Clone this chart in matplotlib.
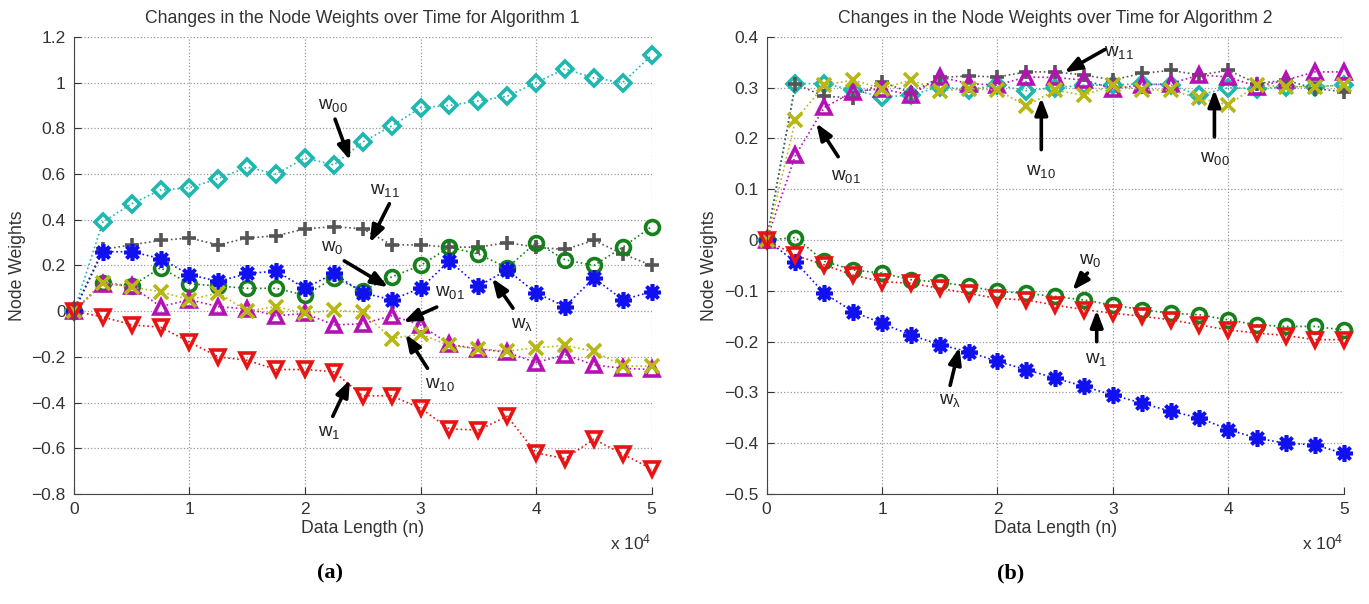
import matplotlib
matplotlib.use('Agg')
import matplotlib.pyplot as plt
from matplotlib.ticker import FuncFormatter, MultipleLocator

plt.rcParams['font.family'] = ['Liberation Sans', 'DejaVu Sans']
plt.rcParams['mathtext.fontset'] = 'custom'
plt.rcParams['mathtext.rm'] = 'Liberation Sans'
plt.rcParams['mathtext.it'] = 'Liberation Sans'
plt.rcParams['mathtext.default'] = 'regular'

# data length (n)
n = [0, 2500, 5000, 7500, 10000, 12500, 15000, 17500, 20000, 22500, 25000,
     27500, 30000, 32500, 35000, 37500, 40000, 42500, 45000, 47500, 50000]

# Algorithm 1
a_w00 = [0, 0.39, 0.47, 0.53, 0.54, 0.58, 0.63, 0.60, 0.67, 0.64, 0.74, 0.81, 0.89, 0.90, 0.92, 0.94, 1.00, 1.06, 1.02, 1.00, 1.12]
a_w11 = [0, 0.27, 0.29, 0.31, 0.32, 0.29, 0.32, 0.33, 0.36, 0.37, 0.36, 0.29, 0.29, 0.28, 0.28, 0.30, 0.28, 0.27, 0.31, 0.25, 0.20]
a_w0 = [0, 0.125, 0.11, 0.19, 0.12, 0.11, 0.10, 0.10, 0.07, 0.145, 0.09, 0.15, 0.20, 0.28, 0.25, 0.19, 0.30, 0.225, 0.20, 0.28, 0.37]
a_wl = [0, 0.26, 0.26, 0.23, 0.16, 0.13, 0.165, 0.175, 0.10, 0.165, 0.08, 0.05, 0.10, 0.22, 0.11, 0.18, 0.08, 0.02, 0.145, 0.05, 0.085]
a_w01 = [0, 0.12, 0.11, 0.02, 0.05, 0.02, 0.01, -0.02, -0.01, -0.06, -0.055, -0.02, -0.06, -0.145, -0.165, -0.18, -0.225, -0.19, -0.235, -0.25, -0.255]
a_w10 = [0, 0.125, 0.105, 0.085, 0.05, 0.08, 0.0, 0.02, -0.01, 0.005, -0.005, -0.12, -0.10, -0.15, -0.165, -0.175, -0.16, -0.15, -0.175, -0.24, -0.24]
a_w1 = [0, -0.025, -0.06, -0.07, -0.135, -0.20, -0.215, -0.255, -0.255, -0.265, -0.37, -0.37, -0.425, -0.515, -0.52, -0.46, -0.62, -0.645, -0.56, -0.625, -0.69]

# Algorithm 2
b_w00 = [0, 0.308, 0.308, 0.295, 0.282, 0.285, 0.302, 0.296, 0.305, 0.294, 0.30, 0.305, 0.305, 0.308, 0.305, 0.285, 0.30, 0.298, 0.302, 0.302, 0.305]
b_w11 = [0, 0.307, 0.283, 0.28, 0.311, 0.29, 0.32, 0.323, 0.321, 0.331, 0.331, 0.325, 0.315, 0.328, 0.334, 0.325, 0.334, 0.308, 0.315, 0.298, 0.292]
b_w0 = [0, 0.005, -0.042, -0.059, -0.065, -0.078, -0.083, -0.091, -0.101, -0.105, -0.111, -0.118, -0.128, -0.137, -0.144, -0.147, -0.157, -0.167, -0.17, -0.17, -0.177]
b_wl = [0, -0.043, -0.105, -0.141, -0.164, -0.187, -0.206, -0.22, -0.239, -0.255, -0.272, -0.288, -0.305, -0.321, -0.337, -0.35, -0.373, -0.39, -0.40, -0.403, -0.42]
b_w01 = [0, 0.167, 0.261, 0.292, 0.298, 0.285, 0.321, 0.308, 0.305, 0.321, 0.32, 0.315, 0.298, 0.305, 0.308, 0.325, 0.321, 0.302, 0.315, 0.331, 0.331]
b_w10 = [0, 0.236, 0.305, 0.315, 0.298, 0.315, 0.294, 0.298, 0.295, 0.264, 0.295, 0.285, 0.305, 0.296, 0.295, 0.279, 0.266, 0.305, 0.302, 0.302, 0.305]
b_w1 = [0, -0.03, -0.049, -0.069, -0.082, -0.085, -0.095, -0.105, -0.115, -0.118, -0.128, -0.137, -0.144, -0.15, -0.157, -0.167, -0.177, -0.183, -0.188, -0.196, -0.196]

# labels: text, text pos (n, w), arrow tail, arrow head
a_notes = [
    (r'w$_{00}$', (22400, 0.90), (22600, 0.84), (23900, 0.66)),
    (r'w$_{11}$', (26900, 0.53), (27300, 0.47), (25600, 0.30)),
    (r'w$_{0}$', (22400, 0.28), (23400, 0.22), (27200, 0.105)),
    (r'w$_{01}$', (32500, 0.08), (31400, 0.018), (28500, -0.048)),
    (r'w$_{10}$', (31700, -0.32), (30600, -0.25), (28700, -0.10)),
    (r'w$_{λ}$', (38800, -0.06), (38000, 0.013), (36200, 0.144)),
    (r'w$_{1}$', (22100, -0.53), (22400, -0.46), (23900, -0.30)),
]
b_notes = [
    (r'w$_{01}$', (6900, 0.125), (6200, 0.164), (4300, 0.23)),
    (r'w$_{11}$', (30500, 0.37), (29300, 0.375), (25800, 0.33)),
    (r'w$_{10}$', (23800, 0.135), (23800, 0.178), (23800, 0.28)),
    (r'w$_{00}$', (38800, 0.16), (38800, 0.203), (38800, 0.296)),
    (r'w$_{0}$', (28000, -0.04), (27800, -0.065), (26500, -0.099)),
    (r'w$_{1}$', (28600, -0.235), (28600, -0.20), (28600, -0.138)),
    (r'w$_{λ}$', (15900, -0.315), (15900, -0.286), (16700, -0.211)),
]

star = (8, 2, 0)
styles = [
    # color, marker
    ('#1fb8ae', 'D'),
    ('#555555', '+'),
    ('#17801c', 'o'),
    ('#1010f0', star),
    ('#b512b5', '^'),
    ('#b8b814', 'x'),
    ('#e81414', 'v'),
]


def fmt_y(v, pos):
    s = '%g' % round(v, 2)
    return s.replace('-', '\u2212')


def fmt_x(v, pos):
    return '%g' % (v / 10000)


def draw(ax, series, notes, title, ylim, ystep):
    for ys, (c, m) in zip(series, styles):
        ms = 8 if m == 'D' else 10
        if m == star:
            ms = 12
        ax.plot(n, ys, color=c, linestyle=':', lw=1.2, marker=m, markersize=ms,
                markerfacecolor='none', markeredgecolor=c, markeredgewidth=2.6,
                clip_on=False)
    ax.set_xlim(0, 50000)
    ax.set_ylim(*ylim)
    ax.xaxis.set_major_locator(MultipleLocator(10000))
    ax.yaxis.set_major_locator(MultipleLocator(ystep))
    ax.xaxis.set_major_formatter(FuncFormatter(fmt_x))
    ax.yaxis.set_major_formatter(FuncFormatter(fmt_y))
    ax.grid(True, linestyle=':', color='#999999', lw=0.9)
    ax.spines['top'].set_visible(False)
    ax.spines['right'].set_visible(False)
    ax.spines['left'].set_color('#444444')
    ax.spines['bottom'].set_color('#444444')
    ax.tick_params(direction='in', length=5, labelsize=12.5, colors='#333333', pad=6)
    ax.set_title(title, fontsize=12.7, color='#333333', pad=10)
    ax.set_xlabel('Data Length (n)', fontsize=12.7, color='#333333', labelpad=2)
    ax.set_ylabel('Node Weights', fontsize=12.7, color='#333333', labelpad=4)
    ax.text(1.0, -0.105, r'x 10$^{4}$', transform=ax.transAxes, ha='right', va='center',
            fontsize=12.5, color='#333333')
    for txt, tp, tail, head in notes:
        ax.text(tp[0], tp[1], txt, fontsize=13.5, color='#222222', ha='center', va='center')
        ax.annotate('', xy=head, xytext=tail,
                    arrowprops=dict(arrowstyle='-|>,head_length=1.0,head_width=0.38',
                                    color='k', lw=2.6, shrinkA=0, shrinkB=0))


fig = plt.figure(figsize=(13.69, 6.04), dpi=100)
ax1 = fig.add_axes([0.054, 0.182, 0.422, 0.757])
ax2 = fig.add_axes([0.560, 0.182, 0.4215, 0.757])

draw(ax1, [a_w00, a_w11, a_w0, a_wl, a_w01, a_w10, a_w1], a_notes,
     'Changes in the Node Weights over Time for Algorithm 1', (-0.8, 1.2), 0.2)
draw(ax2, [b_w00, b_w11, b_w0, b_wl, b_w01, b_w10, b_w1], b_notes,
     'Changes in the Node Weights over Time for Algorithm 2', (-0.5, 0.4), 0.1)

fig.text(0.241, 0.043, '(a)', fontsize=16, fontweight='bold', family='Liberation Serif', ha='center')
fig.text(0.738, 0.043, '(b)', fontsize=16, fontweight='bold', family='Liberation Serif', ha='center')

fig.savefig('out.png', dpi=100)
